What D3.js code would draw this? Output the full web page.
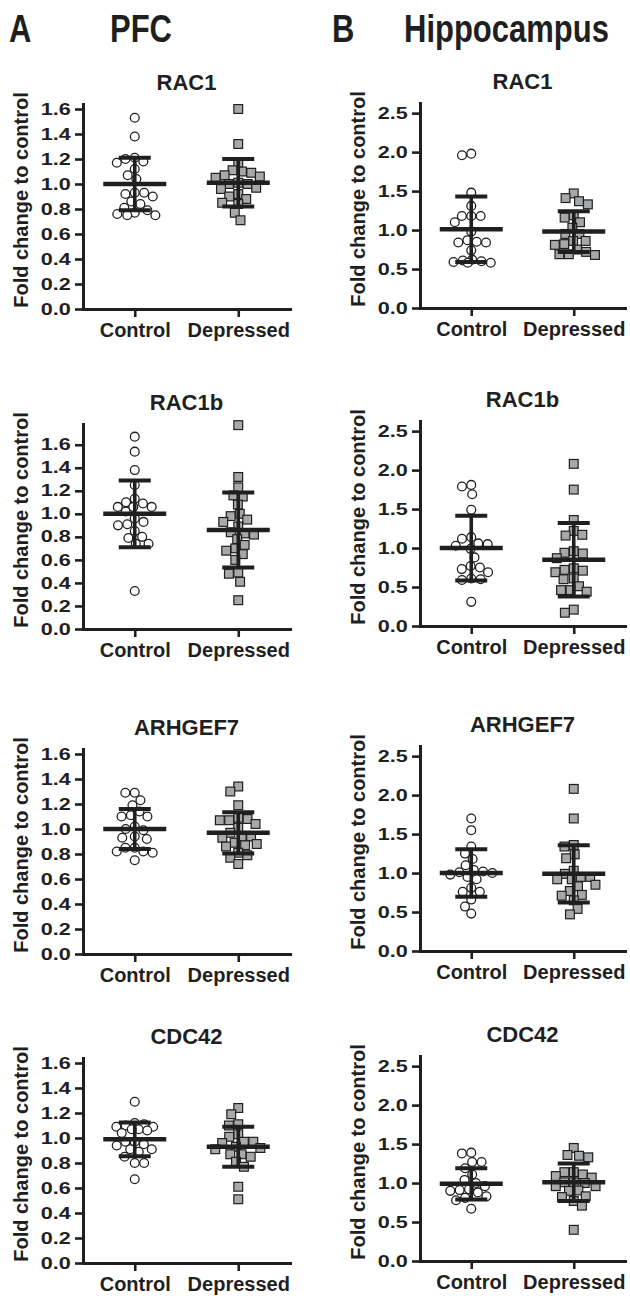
<!DOCTYPE html>
<html>
<head>
<meta charset="utf-8">
<script src="https://cdnjs.cloudflare.com/ajax/libs/d3/7.8.5/d3.min.js"></script>
<style>
  body { margin: 0; background: #fff; }
  svg text { font-family: "Liberation Sans", Arial, sans-serif; font-weight: bold; fill: #1f1f1f; }
</style>
</head>
<body>
<svg id="chart" width="630" height="1296"></svg>
<script>
// ---- data ----
var panelLetters = ["A", "B"];
var regions = ["PFC", "Hippocampus"];
var genes = ["RAC1", "RAC1b", "ARHGEF7", "CDC42"];
var groups = ["Control", "Depressed"];
var yLabel = "Fold change to control";
var pfcTicks = [0, 0.2, 0.4, 0.6, 0.8, 1.0, 1.2, 1.4, 1.6];
var hipTicks = [0, 0.5, 1.0, 1.5, 2.0, 2.5];

// PFC individual values
var pfcRac1Control = [1.53, 1.38, 1.21, 1.20, 1.18, 1.17, 1.12, 1.07, 1.04, 0.93, 0.93, 0.92, 0.90, 0.86, 0.84, 0.81, 0.79, 0.77, 0.76, 0.75, 0.75];
var pfcRac1Depressed = [1.60, 1.32, 1.17, 1.11, 1.10, 1.09, 1.07, 1.06, 1.05, 1.01, 1.00, 1.00, 0.97, 0.96, 0.92, 0.90, 0.88, 0.85, 0.84, 0.77, 0.71];
var pfcRac1bControl = [1.67, 1.54, 1.38, 1.25, 1.13, 1.10, 1.09, 1.06, 1.06, 1.06, 1.02, 0.96, 0.93, 0.91, 0.90, 0.85, 0.80, 0.79, 0.74, 0.74, 0.33];
var pfcRac1bDepressed = [1.77, 1.32, 1.23, 1.16, 1.15, 1.08, 1.00, 0.98, 0.95, 0.93, 0.89, 0.84, 0.83, 0.82, 0.78, 0.73, 0.70, 0.68, 0.65, 0.60, 0.49, 0.48, 0.41, 0.25];
var pfcArhgef7Control = [1.29, 1.29, 1.23, 1.19, 1.14, 1.11, 1.10, 1.10, 1.02, 1.00, 0.99, 0.94, 0.93, 0.92, 0.85, 0.85, 0.82, 0.82, 0.81, 0.75];
var pfcArhgef7Depressed = [1.34, 1.30, 1.19, 1.09, 1.08, 1.07, 1.07, 1.04, 1.01, 0.97, 0.94, 0.94, 0.93, 0.89, 0.88, 0.87, 0.86, 0.81, 0.79, 0.77, 0.72];
var pfcCdc42Control = [1.29, 1.12, 1.11, 1.10, 1.09, 1.09, 1.07, 1.07, 1.06, 1.04, 0.97, 0.97, 0.95, 0.94, 0.91, 0.91, 0.89, 0.85, 0.80, 0.80, 0.67];
var pfcCdc42Depressed = [1.24, 1.19, 1.11, 1.10, 1.03, 1.01, 0.97, 0.97, 0.96, 0.93, 0.92, 0.91, 0.87, 0.87, 0.85, 0.81, 0.77, 0.61, 0.51];

// Hippocampus individual values
var hipRac1Control = [1.98, 1.96, 1.48, 1.31, 1.18, 1.18, 1.18, 1.10, 0.98, 0.87, 0.85, 0.84, 0.84, 0.74, 0.62, 0.61, 0.60, 0.59, 0.58, 0.58];
var hipRac1Depressed = [1.47, 1.41, 1.37, 1.33, 1.19, 1.16, 1.10, 1.03, 0.95, 0.95, 0.86, 0.86, 0.82, 0.81, 0.75, 0.72, 0.69, 0.69, 0.68];
var hipRac1bControl = [1.81, 1.79, 1.69, 1.49, 1.14, 1.12, 1.06, 1.05, 1.03, 0.99, 0.88, 0.77, 0.75, 0.73, 0.69, 0.61, 0.60, 0.59, 0.31];
var hipRac1bDepressed = [2.08, 1.75, 1.36, 1.22, 1.17, 1.16, 0.96, 0.94, 0.93, 0.87, 0.74, 0.72, 0.71, 0.69, 0.61, 0.60, 0.51, 0.46, 0.46, 0.44, 0.21, 0.17];
var hipArhgef7Control = [1.70, 1.55, 1.34, 1.25, 1.18, 1.10, 1.04, 1.02, 1.01, 1.00, 0.98, 0.95, 0.92, 0.81, 0.76, 0.76, 0.66, 0.57, 0.48];
var hipArhgef7Depressed = [2.08, 1.70, 1.36, 1.34, 1.24, 1.19, 1.03, 0.99, 0.95, 0.95, 0.92, 0.92, 0.85, 0.83, 0.77, 0.72, 0.71, 0.65, 0.54, 0.47];
var hipCdc42Control = [1.39, 1.38, 1.27, 1.27, 1.19, 1.11, 1.04, 1.00, 0.96, 0.92, 0.91, 0.90, 0.88, 0.83, 0.81, 0.78, 0.67];
var hipCdc42Depressed = [1.45, 1.36, 1.35, 1.33, 1.14, 1.14, 1.11, 1.09, 1.07, 1.01, 1.01, 1.00, 0.96, 0.96, 0.905, 0.90, 0.83, 0.82, 0.77, 0.71, 0.40];

// mean and SD per gene, [Control, Depressed]
var pfcMeans = [[1.00, 1.01], [1.00, 0.86], [1.00, 0.97], [0.99, 0.93]];
var pfcSDs = [[0.21, 0.19], [0.29, 0.325], [0.16, 0.165], [0.135, 0.16]];
var hipMeans = [[1.01, 0.98], [1.00, 0.85], [1.00, 0.99], [0.99, 1.01]];
var hipSDs = [[0.42, 0.26], [0.415, 0.47], [0.305, 0.367], [0.20, 0.24]];

var pfcValues = [[pfcRac1Control, pfcRac1Depressed], [pfcRac1bControl, pfcRac1bDepressed],
                 [pfcArhgef7Control, pfcArhgef7Depressed], [pfcCdc42Control, pfcCdc42Depressed]];
var hipValues = [[hipRac1Control, hipRac1Depressed], [hipRac1bControl, hipRac1bDepressed],
                 [hipArhgef7Control, hipArhgef7Depressed], [hipCdc42Control, hipCdc42Depressed]];

// ---- layout ----
var ink = "#1f1f1f";
var grey = "#a7a8aa";
var svg = d3.select("#chart");

var cols = [
  { axisX: 83, axisEnd: 290, yMax: 1.64, ticks: pfcTicks, values: pfcValues, means: pfcMeans, sds: pfcSDs, base: [309, 629, 954, 1263] },
  { axisX: 420, axisEnd: 625, yMax: 2.63, ticks: hipTicks, values: hipValues, means: hipMeans, sds: hipSDs, base: [308, 626, 951, 1261] }
];
var axisLen = 205;
var dot = 9.4;     // wanted spacing between point centres
var spread = 23;   // max sideways offset, points overlap past this

// header letters / region names
var heads = [[9, 110], [332, 404]];
heads.forEach(function(h, i) {
  svg.append("text").attr("transform", "translate(" + h[0] + ",42) scale(1,1.26)")
     .style("font-size", "31px").text(panelLetters[i]);
  svg.append("text").attr("transform", "translate(" + h[1] + ",42) scale(1,1.26)")
     .style("font-size", "31px").text(regions[i]);
});

// beeswarm, capped width: place each point as close to the centre as it can go
function swarm(vals, y) {
  var pts = vals.map(function(v) { return { v: v, py: y(v) }; })
                .sort(function(a, b) { return a.py - b.py; });
  var placed = [];
  var side = 1;
  function minDist(c, p) {
    var m = Infinity;
    placed.forEach(function(q) {
      m = Math.min(m, Math.sqrt((q.dx - c) * (q.dx - c) + (q.py - p.py) * (q.py - p.py)));
    });
    return m;
  }
  pts.forEach(function(p) {
    var cands = [0];
    placed.forEach(function(q) {
      var dy = Math.abs(q.py - p.py);
      if (dy < dot) {
        var dx = Math.sqrt(dot * dot - dy * dy);
        cands.push(q.dx + dx, q.dx - dx);
      }
    });
    cands = cands.filter(function(c) { return Math.abs(c) <= spread; });
    cands.sort(function(a, b) { return Math.abs(a) - Math.abs(b) || side * (b - a); });
    p.dx = null;
    for (var k = 0; k < cands.length; k++) {
      if (minDist(cands[k], p) >= dot - 0.01) { p.dx = cands[k]; break; }
    }
    if (p.dx === null) {
      // crowded row: take the least overlapping spot inside the cap
      var best = 0, bestD = -1;
      for (var c = -spread; c <= spread; c += 0.5) {
        var d = minDist(c, p);
        if (d > bestD + 0.01) { bestD = d; best = c; }
      }
      p.dx = best;
    }
    side = -side;
    placed.push(p);
  });
  return pts;
}

function panel(col, gi) {
  var y0 = col.base[gi];
  var data = col.values[gi];
  var top = Math.max(col.yMax, d3.max(data, function(a) { return d3.max(a); }) + 0.01);
  var y = d3.scaleLinear().domain([0, top]).range([y0, y0 - axisLen]);
  var x = d3.scalePoint().domain(groups).range([col.axisX, col.axisEnd]).padding(0.5);
  var g = svg.append("g");

  // title
  g.append("text")
    .attr("x", (col.axisX + col.axisEnd) / 2)
    .attr("y", y0 - 219)
    .attr("text-anchor", "middle")
    .style("font-size", "22px")
    .text(genes[gi]);

  // y axis label
  g.append("text")
    .attr("transform", "translate(" + (col.axisX - 55) + "," + (y0 - 109) + ") rotate(-90)")
    .attr("text-anchor", "middle")
    .style("font-size", "20px")
    .text(yLabel);

  // points
  groups.forEach(function(grp, k) {
    var pts = swarm(data[k], y);
    var cx = x(grp);
    if (k === 0) {
      g.selectAll(null).data(pts).enter().append("circle")
        .attr("cx", function(d) { return cx + d.dx; })
        .attr("cy", function(d) { return d.py; })
        .attr("r", 4.4)
        .attr("fill", "#fff")
        .attr("stroke", ink)
        .attr("stroke-width", 1.3);
    } else {
      g.selectAll(null).data(pts).enter().append("rect")
        .attr("x", function(d) { return cx + d.dx - 4.4; })
        .attr("y", function(d) { return d.py - 4.4; })
        .attr("width", 8.8)
        .attr("height", 8.8)
        .attr("fill", grey)
        .attr("stroke", ink)
        .attr("stroke-width", 1.2);
    }
  });

  // mean and SD bars
  groups.forEach(function(grp, k) {
    var cx = x(grp);
    var m = col.means[gi][k], s = col.sds[gi][k];
    g.append("line").attr("x1", cx).attr("x2", cx).attr("y1", y(m + s)).attr("y2", y(m - s))
      .attr("stroke", ink).attr("stroke-width", 3.6);
    [m + s, m - s].forEach(function(v) {
      g.append("line").attr("x1", cx - 16).attr("x2", cx + 16).attr("y1", y(v)).attr("y2", y(v))
        .attr("stroke", ink).attr("stroke-width", 4);
    });
    g.append("line").attr("x1", cx - 31.5).attr("x2", cx + 31.5).attr("y1", y(m)).attr("y2", y(m))
      .attr("stroke", ink).attr("stroke-width", 4.5);
  });

  // axes
  var ya = g.append("g")
    .attr("transform", "translate(" + col.axisX + ",0)")
    .call(d3.axisLeft(y).tickValues(col.ticks).tickSize(8).tickSizeOuter(0).tickPadding(1)
      .tickFormat(d3.format(".1f")));
  ya.selectAll("text").style("font-size", "16px").attr("transform", "scale(1.35,1)");

  var xa = g.append("g")
    .attr("transform", "translate(0," + y0 + ")")
    .call(d3.axisBottom(x).tickSize(8).tickSizeOuter(0).tickPadding(6));
  xa.selectAll("text").style("font-size", "20px");

  [ya, xa].forEach(function(a) {
    a.select(".domain").attr("stroke", ink).attr("stroke-width", 3).attr("stroke-linecap", "square");
    a.selectAll(".tick line").attr("stroke", ink).attr("stroke-width", 2.6);
    a.selectAll("text").style("fill", ink);
  });
}

cols.forEach(function(col) {
  genes.forEach(function(gene, gi) { panel(col, gi); });
});
</script>
</body>
</html>
